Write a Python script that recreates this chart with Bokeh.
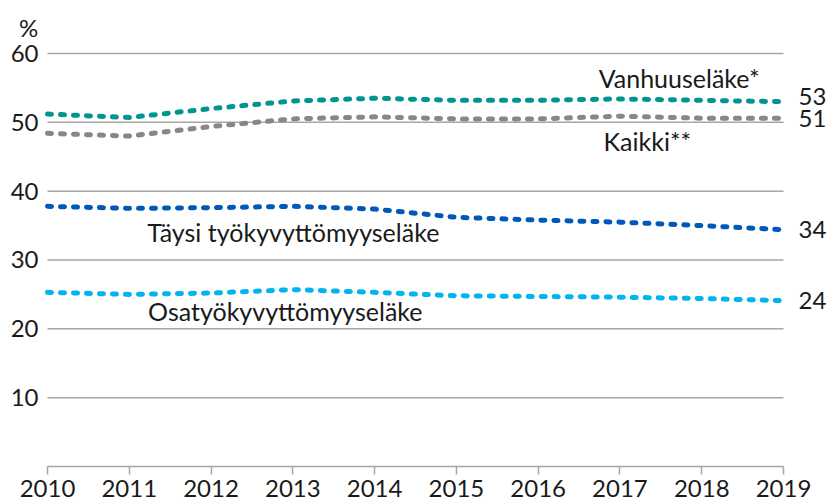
from bokeh.plotting import figure
from bokeh.models import Range1d, FixedTicker, ColumnDataSource
from bokeh.core.properties import value
from bokeh.embed import file_html
from bokeh.resources import INLINE

# ---- data ----
years = [2010, 2011, 2012, 2013, 2014, 2015, 2016, 2017, 2018, 2019]
year_labels = ["2010", "2011", "2012", "2013", "2014", "2015", "2016", "2017", "2018", "2019"]
vanhuus = [51.2, 50.7, 52.0, 53.1, 53.5, 53.2, 53.2, 53.4, 53.2, 53.0]
kaikki = [48.4, 48.0, 49.4, 50.5, 50.8, 50.5, 50.5, 50.9, 50.6, 50.6]
taysi = [37.8, 37.5, 37.6, 37.8, 37.4, 36.2, 35.8, 35.5, 35.0, 34.4]
osa = [25.3, 25.0, 25.2, 25.7, 25.3, 24.8, 24.7, 24.6, 24.4, 24.1]
series_names = ["Vanhuuseläke*", "Kaikki**", "Täysi työkyvyttömyyseläke", "Osatyökyvyttömyyseläke"]
end_labels = ["53", "51", "34", "24"]
y_ticks = [10, 20, 30, 40, 50, 60]
y_unit = "%"

# ---- styles ----
FONT = "Lato"
TXT = "#1a1a1a"
GRID = "#a6a6a6"
colors = ["#00968f", "#878787", "#0059b8", "#00b5ef"]
series = [vanhuus, kaikki, taysi, osa]

p = figure(width=829, height=501,
           x_range=Range1d(2009.4253, 2019.5625),
           y_range=Range1d(-5.085, 67.700),
           output_backend="svg", toolbar_location=None,
           min_border=0, min_border_left=0, min_border_right=0,
           min_border_top=0, min_border_bottom=0)
p.outline_line_color = None
p.xgrid.visible = False
p.ygrid.visible = False
p.background_fill_color = "white"

# x axis at y = 0
xa = p.xaxis[0]
xa.fixed_location = 0
xa.bounds = (years[0], years[-1])
xa.ticker = FixedTicker(ticks=years)
xa.major_label_overrides = {y: l for y, l in zip(years, year_labels)}
xa.minor_tick_line_color = None
xa.major_tick_in = 0
xa.major_tick_out = 8
xa.major_tick_line_color = GRID
xa.major_tick_line_width = 1.5
xa.axis_line_color = GRID
xa.axis_line_width = 1.5
xa.major_label_standoff = 6
xa.major_label_text_font = FONT
xa.major_label_text_font_size = "24px"
xa.major_label_text_color = TXT

# y axis at x = first year
ya = p.yaxis[0]
ya.fixed_location = years[0]
ya.ticker = FixedTicker(ticks=y_ticks)
ya.axis_line_color = None
ya.major_tick_line_color = None
ya.minor_tick_line_color = None
ya.major_tick_in = 0
ya.major_tick_out = 0
ya.major_label_standoff = 9
ya.major_label_text_font = FONT
ya.major_label_text_font_size = "24px"
ya.major_label_text_color = TXT

# gridlines spanning 2010..2019 only
p.segment(x0=[years[0]] * len(y_ticks), x1=[years[-1]] * len(y_ticks),
          y0=y_ticks, y1=y_ticks, line_color=GRID, line_width=1.5)

# unit label
p.text(x=[years[0]], y=[y_ticks[-1]], text=[y_unit], x_offset=-19, y_offset=-26,
       text_font=value(FONT), text_font_size="24px", text_color=TXT,
       text_align="center", text_baseline="alphabetic")

# series lines
for vals, col in zip(series, colors):
    p.line(years, vals, line_color=col, line_width=5, line_dash="4 9",
           line_cap="round", line_join="round")

# series name labels
lab = ColumnDataSource(dict(x=[2016.74, 2016.80, 2011.22, 2011.23],
                            y=[56.5, 47.3, 34.0, 22.6],
                            t=series_names))
p.text(x="x", y="y", text="t", source=lab, text_font=value(FONT),
       text_font_size="25px", text_color=TXT, text_align="left",
       text_baseline="alphabetic")

# end value labels
end_dy = [-5, 0, 0, 0]
end = ColumnDataSource(dict(x=[years[-1]] * len(series),
                            y=[s[-1] for s in series],
                            t=end_labels, dy=end_dy))
p.text(x="x", y="y", text="t", source=end, x_offset=15, y_offset="dy",
       text_font=value(FONT), text_font_size="24px", text_color=TXT,
       text_align="left", text_baseline="middle")

open("out.html", "w").write(file_html(p, INLINE))
